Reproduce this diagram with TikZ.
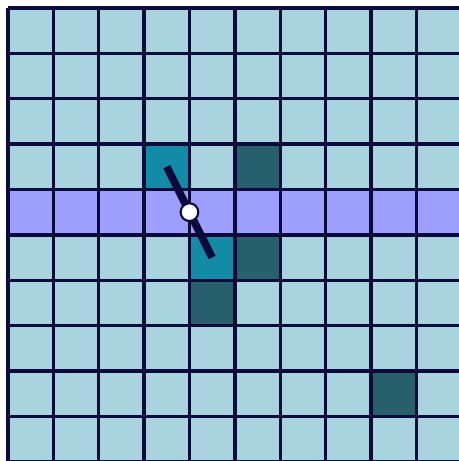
\documentclass[tikz,border=0pt]{standalone}
\usepackage{tikz}
\usepackage{xcolor}
\definecolor{gridblue}{HTML}{A8D3DF}
\definecolor{rowviolet}{HTML}{9E9EFF}
\definecolor{hitteal}{HTML}{148BA6}
\definecolor{hitdark}{HTML}{285F6D}
\definecolor{inkline}{HTML}{0B0A3A}

\begin{document}
\begin{tikzpicture}[
  x=1cm,y=-1cm,
  gridline/.style={draw=inkline,line width=2.1pt},
  rowcell/.style={fill=rowviolet},
  hitcell/.style={fill=hitteal},
  darkcell/.style={fill=hitdark},
  ray/.style={draw=inkline,line width=4.8pt},
  pivot/.style={circle,draw=inkline,fill=white,line width=1.3pt,
                minimum size=3.9mm,inner sep=0pt}
]
\useasboundingbox (-0.176,-0.176) rectangle (9.94,9.985);
% background cells
\fill[gridblue] (0,0) rectangle (10,10);
\fill[rowcell] (0,4) rectangle (10,5);
% marked cells
\foreach \cx/\cy in {3/3,4/5}
  \fill[hitcell] (\cx,\cy) rectangle ++(1,1);
\foreach \cx/\cy in {5/3,5/5,4/6,8/8}
  \fill[darkcell] (\cx,\cy) rectangle ++(1,1);
\draw[gridline] (0,0) grid (10,10);
% segment through the pivot
\coordinate (segtop) at (3.5,3.5);
\coordinate (segbot) at (4.5,5.5);
\draw[ray] (segtop) -- (segbot);
\node[pivot] (centre) at (4,4.5) {};
\end{tikzpicture}
\end{document}
